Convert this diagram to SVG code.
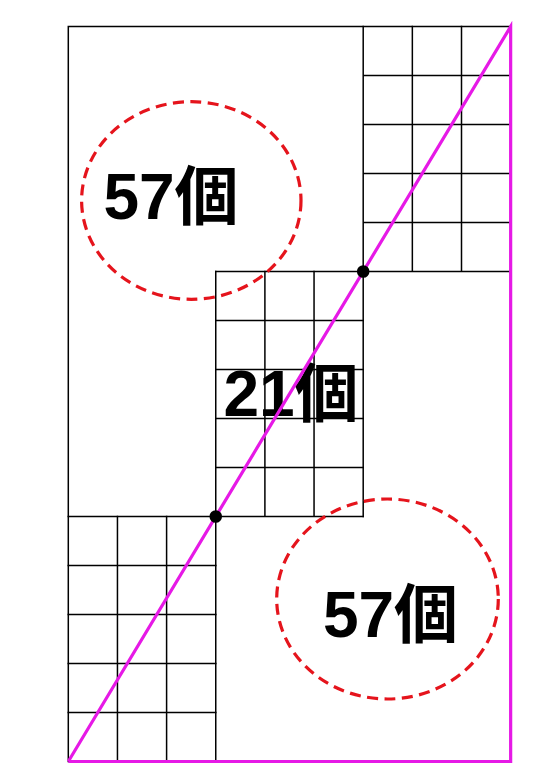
<svg xmlns="http://www.w3.org/2000/svg" width="560" height="780" viewBox="0 0 560 780">
<style>
.g{stroke:#000;stroke-width:1.5;fill:none;stroke-linecap:square}
.m{stroke:#e619e6;stroke-width:3.2;fill:none}
.c{stroke:#e5141c;stroke-width:3.2;fill:none;stroke-dasharray:11 6.5}
.t{font-family:"Liberation Sans","Noto Sans CJK JP",sans-serif;font-weight:bold;font-size:64px;fill:#000;text-anchor:middle}
</style>
<rect width="560" height="780" fill="#fff"/>
<g id="grid" class="g">
<path d="M68.3 26.5H510.65M68.3 26.5V761.5M68.3 761.5H510.65"/>
<path d="M363.2 26.5V516.5M412.35 26.5V271.5M461.5 26.5V271.5M363.2 75.5H510.65M363.2 124.5H510.65M363.2 173.5H510.65M363.2 222.5H510.65M215.75 271.5H510.65"/>
<path d="M215.75 271.5V761.5M264.9 271.5V516.5M314.05 271.5V516.5M215.75 320.5H363.2M215.75 369.5H363.2M215.75 418.5H363.2M215.75 467.5H363.2M68.3 516.5H363.2"/>
<path d="M117.45 516.5V761.5M166.6 516.5V761.5M68.3 565.5H215.75M68.3 614.5H215.75M68.3 663.5H215.75M68.3 712.5H215.75"/>
</g>
<g id="label-top"><text class="t" x="171" y="219">57個</text></g>
<g id="label-middle"><text class="t" x="291" y="415.5">21個</text></g>
<g id="label-bottom"><text class="t" x="390.5" y="636.5">57個</text></g>
<g id="circle-top"><ellipse class="c" cx="191.3" cy="200.5" rx="109.7" ry="98.8"/></g>
<g id="circle-bottom"><ellipse class="c" cx="387.5" cy="599" rx="110.8" ry="100"/></g>
<g id="connectors" class="m">
<path d="M68.3 761.5L510.65 26.5V761.5H68.3"/>
</g>
<g id="dots" fill="#000">
<circle cx="215.75" cy="516.5" r="6.3"/>
<circle cx="363.2" cy="271.5" r="6.3"/>
</g>
</svg>
